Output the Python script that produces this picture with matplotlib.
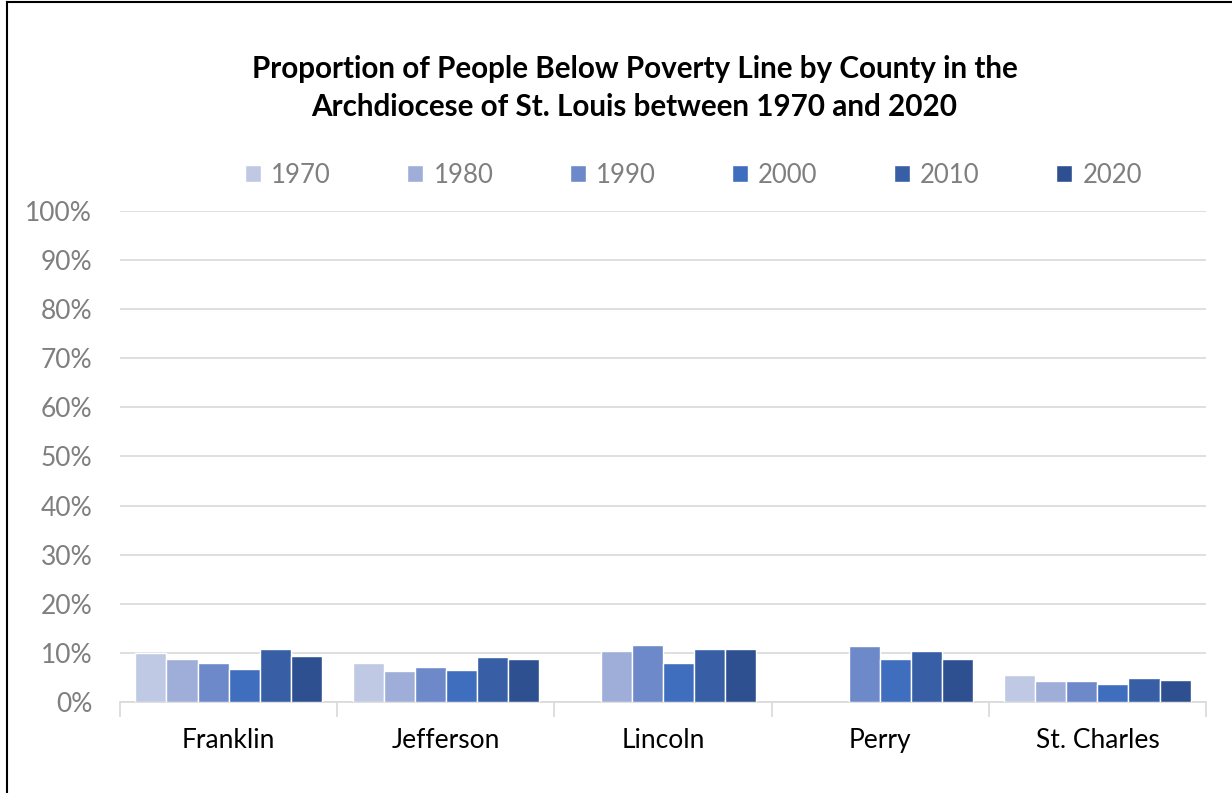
import numpy as np
import matplotlib.pyplot as plt
from matplotlib.lines import Line2D

counties = ["Franklin", "Jefferson", "Lincoln", "Perry", "St. Charles"]
years = ["1970", "1980", "1990", "2000", "2010", "2020"]
# percent below poverty line, nan = no data
p1970 = [10.0, 8.0, np.nan, np.nan, 5.4]
p1980 = [8.8, 6.4, 10.4, np.nan, 4.2]
p1990 = [8.0, 7.2, 11.6, 11.4, 4.3]
p2000 = [6.8, 6.5, 8.0, 8.8, 3.7]
p2010 = [10.8, 9.2, 10.7, 10.3, 4.8]
p2020 = [9.3, 8.8, 10.7, 8.8, 4.5]
series = [p1970, p1980, p1990, p2000, p2010, p2020]
colors = ["#BFC9E3", "#9FAED8", "#6E89CA", "#3F6EBE", "#385FA6", "#2F5090"]

plt.rcParams['font.family'] = ['Lato', 'DejaVu Sans']

fig = plt.figure(figsize=(12.32, 7.93), dpi=100)
ax = fig.add_axes([0.0974, 0.1148, 0.8815, 0.6191])

x = np.arange(len(counties))
w = 0.143
for i, (vals, c) in enumerate(zip(series, colors)):
    ax.bar(x + (i - 2.5) * w, np.array(vals) / 100, w, color=c,
           edgecolor='white', linewidth=1, label=years[i], zorder=3)

ax.set_xlim(-0.5, len(counties) - 0.5)
ax.set_ylim(0, 1.0)
ax.set_yticks(np.arange(0, 1.01, 0.1))
ax.set_yticklabels([f"{int(round(v * 100))}%" for v in np.arange(0, 1.01, 0.1)])
ax.yaxis.grid(True, color='#D9D9D9', linewidth=1.2, zorder=0)
ax.tick_params(axis='y', length=0, labelsize=19, labelcolor='#7F7F7F', pad=20)

ax.set_xticks(x)
ax.set_xticklabels(counties)
ax.tick_params(axis='x', length=0, labelsize=19, labelcolor='#000000', pad=19)
ax.set_xticks(np.arange(-0.5, len(counties)), minor=True)
ax.tick_params(axis='x', which='minor', length=11, width=1.2, color='#D9D9D9')

for s in ['left', 'right', 'top']:
    ax.spines[s].set_visible(False)
ax.spines['bottom'].set_color('#D9D9D9')
ax.spines['bottom'].set_linewidth(1.2)

fig.text(0.515, 0.889, "Proportion of People Below Poverty Line by County in the\n"
         "Archdiocese of St. Louis between 1970 and 2020",
         ha='center', va='center', fontsize=21.3, fontweight='bold',
         linespacing=1.45, color='#000000')

ax.legend(loc='center', bbox_to_anchor=(0.528, 1.073), ncol=6, frameon=False,
          fontsize=18.5, labelcolor='#7F7F7F', handlelength=0.62, handleheight=0.62,
          columnspacing=2.97, handletextpad=0.4)

# chart frame
fig.add_artist(Line2D([0.0057, 0.0057], [0, 0.9975], color='black', linewidth=1.5,
                      transform=fig.transFigure))
fig.add_artist(Line2D([0.0057, 1.0], [0.9975, 0.9975], color='black', linewidth=1.5,
                      transform=fig.transFigure))

fig.savefig("out.png", dpi=100)
